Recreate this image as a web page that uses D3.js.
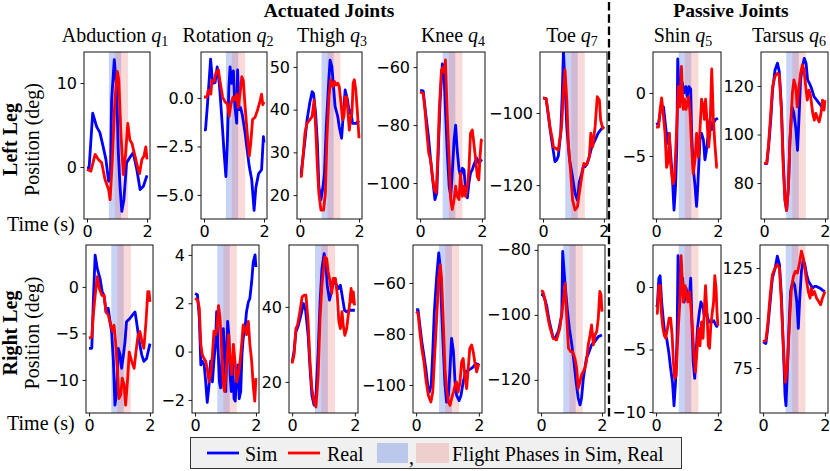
<!DOCTYPE html>
<html>
<head>
<meta charset="utf-8">
<script src="https://cdn.jsdelivr.net/npm/d3@7"></script>
<style>
  body { margin: 0; background: #fff; }
  svg { display: block; }
  .tick text { font-family: "DejaVu Sans", sans-serif; font-size: 16px; fill: #000; }
  .tick line { stroke: #000; stroke-width: 0.9; }
  .serif { font-family: "Liberation Serif", "Times New Roman", serif; fill: #000; }
</style>
</head>
<body>
<svg id="chart" width="830" height="471"></svg>
<script>
// joints, in the order of the columns
const joints = ["Abduction", "Rotation", "Thigh", "Knee", "Toe", "Shin", "Tarsus"];
const jointIdx = ["1", "2", "3", "4", "7", "5", "6"];
const rowNames = ["Left Leg", "Right Leg"];

const xDomain = [-0.1, 2.1];
const xTicks = [0, 2];
const flightSim = [0.73, 1.14];
const flightReal = [0.93, 1.37];

// y ranges and ticks per panel
const yDomainLeft = [[-6.2, 13.7], [-6.24, 2.37], [14.4, 53.5], [-112.4, -54.8], [-129.4, -83.1], [-10, 3.25], [65.2, 134]];
const yDomainRight = [[-13.55, 4.5], [-2.54, 4.41], [11.7, 56.5], [-111, -45.1], [-130.2, -78.5], [-10.08, 3.36], [52.5, 136.5]];
const yTicksLeft = [[0, 10], [-5, -2.5, 0], [20, 30, 40, 50], [-100, -80, -60], [-120, -100], [-5, 0], [80, 100, 120]];
const yTicksRight = [[-10, -5, 0], [-2, 0, 2, 4], [20, 40], [-100, -80, -60], [-120, -100, -80], [-10, -5, 0], [75, 100, 125]];

// ---- left leg, [time, deg]
const leftAbductionSim = [[0,-0.1],[0.07,-0.1],[0.19,6.4],[0.32,4.8],[0.43,4.1],[0.54,2.4],[0.63,0.9],[0.72,-1.7],[0.78,-1.5],[0.82,8],[0.91,12.8],[0.99,9.2],[1.04,2.0],[1.1,-2.3],[1.16,-5.3],[1.23,-3.9],[1.32,0.5],[1.46,1.3],[1.54,1.7],[1.66,-0.3],[1.77,-2.7],[1.88,-2.3],[2.0,-1.0]];
const leftAbductionReal = [[0,-0.3],[0.13,-0.5],[0.27,1.5],[0.38,0.9],[0.49,0.5],[0.6,-1.5],[0.72,-2.7],[0.77,-3.9],[0.84,0.5],[0.93,8.0],[1.01,11.4],[1.06,10.4],[1.13,4.0],[1.21,-0.9],[1.28,1.3],[1.36,5.2],[1.43,3.2],[1.5,2.8],[1.6,1.3],[1.68,0.1],[1.75,-0.8],[1.83,0.9],[1.9,1.3],[1.96,2.4],[2.0,0.9]];
const leftRotationSim = [[0,-1.65],[0.05,-1.65],[0.11,-0.45],[0.18,1.1],[0.22,2.0],[0.29,0.75],[0.37,0.8],[0.44,1.6],[0.51,0.75],[0.56,-0.3],[0.62,-1.65],[0.67,-2.85],[0.73,-4.05],[0.78,-2.2],[0.83,0.6],[0.87,1.6],[0.92,0.75],[0.98,1.4],[1.03,-0.45],[1.09,-1.3],[1.12,1.45],[1.17,-0.6],[1.22,-0.5],[1.28,-0.9],[1.37,-1.8],[1.44,-2.7],[1.51,-3.55],[1.59,-4.2],[1.67,-5.8],[1.73,-4.6],[1.82,-3.9],[1.92,-3.7],[1.98,-2.0],[2.0,-2.3]];
const leftRotationReal = [[0,0.05],[0.1,0.05],[0.14,0.4],[0.23,0.2],[0.26,0.9],[0.34,0.85],[0.4,1.3],[0.48,1.45],[0.53,0.9],[0.62,0.05],[0.7,-0.2],[0.78,-0.3],[0.84,-0.95],[0.9,-0.3],[0.97,0.05],[1.03,-0.1],[1.09,0.2],[1.14,-0.5],[1.2,0.2],[1.26,1.1],[1.31,0.9],[1.37,-0.45],[1.44,-1.8],[1.51,-3.0],[1.56,-2.3],[1.62,-1.1],[1.7,-1.0],[1.78,-0.65],[1.87,-0.15],[1.92,0.2],[1.96,-0.35],[2.0,-0.2]];
const leftThighSim = [[0,25.1],[0.04,25.1],[0.17,32.9],[0.24,37.6],[0.33,41.5],[0.41,44.2],[0.46,43.8],[0.53,39.2],[0.59,32.1],[0.64,22.0],[0.71,18.9],[0.78,22],[0.83,25.1],[0.89,36],[0.97,46.2],[1.02,51.6],[1.08,50.1],[1.14,45],[1.19,40.7],[1.28,38.4],[1.33,36.0],[1.41,33.3],[1.47,39.2],[1.53,44.6],[1.61,42.3],[1.67,39.2],[1.72,39.9],[1.78,36.8],[1.89,36.8],[2.0,37.4]];
const leftThighReal = [[0,24.4],[0.05,24.4],[0.17,34.5],[0.24,36.8],[0.33,37.6],[0.41,38.4],[0.48,42.3],[0.53,36],[0.59,26.6],[0.64,20.4],[0.71,16.5],[0.8,16.5],[0.86,20.4],[0.91,32.9],[0.98,43.0],[1.04,47],[1.11,45.4],[1.17,46.6],[1.22,45.8],[1.28,46.2],[1.33,45.4],[1.39,41.5],[1.44,37.6],[1.49,38.4],[1.53,43.0],[1.58,43.0],[1.62,39.9],[1.67,35.2],[1.71,37.6],[1.76,39.2],[1.8,46.2],[1.84,47],[1.89,44.6],[1.94,39.9],[2.0,33.3]];
const leftKneeSim = [[0,-68],[0.1,-68.2],[0.18,-76],[0.27,-84],[0.34,-92],[0.41,-98.9],[0.48,-105.7],[0.54,-103.4],[0.59,-88.6],[0.65,-71.4],[0.72,-58.9],[0.78,-63.4],[0.83,-77.1],[0.88,-89.7],[0.94,-101.1],[0.99,-104.6],[1.04,-96.6],[1.1,-85.1],[1.15,-80],[1.2,-88.6],[1.26,-95.4],[1.31,-97.7],[1.37,-94.9],[1.42,-95.4],[1.47,-102.3],[1.53,-105.1],[1.58,-100],[1.63,-96.6],[1.69,-95.4],[1.74,-93.7],[1.83,-91.4],[1.9,-93.1],[2.0,-91.8]];
const leftKneeReal = [[0,-68.6],[0.1,-69.1],[0.16,-74.9],[0.22,-82.9],[0.28,-89.7],[0.34,-92],[0.41,-98.9],[0.46,-102.3],[0.52,-103.4],[0.57,-92],[0.62,-74.9],[0.69,-61.1],[0.75,-60],[0.79,-62],[0.82,-57.5],[0.88,-77],[0.94,-92],[0.99,-105.7],[1.04,-109.1],[1.1,-105.7],[1.15,-101.1],[1.2,-104.6],[1.26,-105.7],[1.31,-96.6],[1.37,-104.6],[1.42,-101.1],[1.47,-104.6],[1.53,-101.1],[1.58,-95.4],[1.63,-82.9],[1.69,-81.7],[1.74,-86.3],[1.8,-92],[1.85,-97.7],[1.9,-98.9],[1.94,-90.9],[1.98,-85.1],[2.0,-85.7]];
const leftToeSim = [[0,-95.9],[0.1,-96],[0.17,-100.5],[0.23,-104.5],[0.3,-108.5],[0.39,-113.5],[0.45,-113],[0.5,-112],[0.58,-105.6],[0.63,-95],[0.67,-82.5],[0.72,-92],[0.78,-103.8],[0.87,-113],[0.95,-116.8],[1.05,-122.3],[1.13,-124.2],[1.19,-119.1],[1.27,-116.8],[1.32,-114.9],[1.38,-114.9],[1.45,-114],[1.52,-112.1],[1.6,-109.4],[1.71,-107.5],[1.81,-105.6],[1.93,-104.3],[2.0,-103.8]];
const leftToeReal = [[0,-95.8],[0.1,-96],[0.17,-100],[0.23,-104],[0.3,-107],[0.34,-109.4],[0.45,-110],[0.5,-110.3],[0.61,-103.8],[0.67,-94],[0.72,-88],[0.78,-96.4],[0.83,-108.4],[0.91,-116.8],[0.97,-124.2],[1.05,-126.9],[1.13,-126],[1.19,-122.3],[1.27,-117.7],[1.34,-114],[1.43,-114.4],[1.52,-112.1],[1.57,-105.6],[1.63,-109.4],[1.71,-103.8],[1.78,-95.5],[1.85,-96.4],[1.89,-101.9],[1.96,-104.3],[2.0,-103.8]];
const leftShinSim = [[0,-2.5],[0.08,-2.4],[0.15,-1.3],[0.24,-1.1],[0.31,-2.7],[0.37,-4.0],[0.42,-3.2],[0.47,-4.8],[0.53,-6.9],[0.58,-9.3],[0.63,-7.4],[0.67,-4.3],[0.7,2.7],[0.74,0.3],[0.8,-0.3],[0.85,0.8],[0.9,0],[0.96,0.5],[1.01,-0.3],[1.06,0.5],[1.12,0.3],[1.15,-3.2],[1.2,-5.9],[1.26,-7.4],[1.31,-9.0],[1.35,-7.4],[1.42,-3.7],[1.47,-3.2],[1.53,-3.7],[1.58,-5.3],[1.63,-4.5],[1.69,-3.2],[1.74,-2.1],[1.8,-2.9],[1.85,-2.4],[1.92,-2.1],[2.0,-2.0]];
const leftShinReal = [[0,-2.7],[0.08,-2.7],[0.13,-1.3],[0.18,-0.4],[0.24,-1.9],[0.29,-3.2],[0.34,-5.9],[0.4,-5.3],[0.43,-3.2],[0.47,-5.6],[0.54,-7.2],[0.59,-6.9],[0.63,-4.8],[0.68,-2.1],[0.72,0.5],[0.77,-1.1],[0.82,2.1],[0.85,0],[0.88,-1.3],[0.92,-0.5],[0.97,-1.3],[1.01,-0.8],[1.05,-0.3],[1.1,-1.6],[1.15,-4.3],[1.2,-6.4],[1.26,-5.3],[1.31,-3.2],[1.37,-5.1],[1.42,-2.9],[1.47,-0.5],[1.53,-1.1],[1.56,-2.1],[1.6,-0.5],[1.66,-2.7],[1.7,-4.3],[1.74,-3.2],[1.8,1.9],[1.85,-1.9],[1.9,-4.0],[1.96,-5.9],[1.99,-5.9]];
const leftTarsusSim = [[0,88],[0.09,88],[0.15,94.9],[0.22,105.9],[0.28,118.3],[0.36,126.6],[0.44,129.4],[0.5,125.9],[0.57,111.4],[0.63,89.4],[0.69,72.8],[0.74,68.7],[0.8,78.3],[0.85,97.7],[0.92,111.4],[0.98,108.7],[1.05,101.8],[1.1,93.5],[1.15,107.3],[1.2,122.5],[1.26,128],[1.32,131.4],[1.38,129.4],[1.43,122.5],[1.49,121.1],[1.56,119],[1.64,115.6],[1.73,114.2],[1.81,112.8],[1.9,111.4],[2.0,110.8]];
const leftTarsusReal = [[0,88],[0.09,88.3],[0.15,96.3],[0.22,108.7],[0.28,119.7],[0.36,123.9],[0.44,125.2],[0.5,124.6],[0.57,110.1],[0.63,86.6],[0.69,72.8],[0.74,68.7],[0.8,78.3],[0.85,97.7],[0.93,117],[0.98,122.5],[1.04,119.7],[1.09,111.4],[1.15,119.7],[1.2,125.2],[1.26,128.7],[1.31,126.6],[1.37,119.7],[1.42,114.2],[1.48,118.3],[1.53,115.6],[1.6,108.7],[1.65,105.9],[1.7,108.7],[1.76,106.6],[1.81,105.2],[1.87,108.7],[1.92,114.2],[1.97,110.1],[2.0,114.2]];

// ---- right leg
const rightAbductionSim = [[0,-6.6],[0.09,-6.6],[0.14,-1.6],[0.2,3.4],[0.27,2.0],[0.36,0.9],[0.43,-0.5],[0.49,-0.9],[0.56,-2.7],[0.63,-2.3],[0.69,-3.75],[0.74,-4.8],[0.8,-8],[0.85,-12.7],[0.91,-11.25],[0.96,-6.6],[1.02,-7.3],[1.07,-8.75],[1.13,-7.3],[1.18,-5.9],[1.23,-3.75],[1.34,-3.4],[1.43,-3.0],[1.51,-2.7],[1.56,-3.75],[1.65,-5.9],[1.73,-7.3],[1.8,-8],[1.89,-7.7],[2.0,-6.1]];
const rightAbductionReal = [[0,-5.5],[0.09,-5.4],[0.14,-3.0],[0.2,-0.9],[0.27,1.1],[0.34,-0.2],[0.42,-0.9],[0.49,-0.9],[0.56,-2.7],[0.63,-3.0],[0.71,-4.1],[0.78,-4.8],[0.82,-4.1],[0.87,-5.9],[0.93,-8.75],[0.98,-12],[1.04,-11.6],[1.09,-9.8],[1.15,-10.5],[1.2,-12.7],[1.26,-10.2],[1.32,-7],[1.4,-8],[1.48,-8.75],[1.54,-7],[1.61,-5.2],[1.67,-4.8],[1.74,-5.9],[1.8,-6.6],[1.87,-3.75],[1.93,-0.5],[1.97,-0.5],[2.0,-1.6]];
const rightRotationSim = [[0,2.4],[0.08,2.35],[0.14,1.4],[0.19,-0.55],[0.24,-0.4],[0.3,-0.55],[0.35,-1.25],[0.4,-2.1],[0.46,-1.4],[0.51,-0.4],[0.57,-1.25],[0.62,-0.4],[0.67,0.3],[0.71,1.65],[0.75,0.3],[0.8,-1.25],[0.84,-1.5],[0.89,-0.15],[0.93,0.95],[0.97,0],[1.01,-1.65],[1.04,-0.15],[1.07,1.25],[1.11,0.7],[1.15,-0.95],[1.19,-1.65],[1.23,-0.3],[1.28,-1.95],[1.32,-2.05],[1.37,-0.95],[1.41,-0.55],[1.45,-1.95],[1.5,-1.65],[1.54,-0.15],[1.58,0.55],[1.64,0.95],[1.69,1.65],[1.75,2.05],[1.8,2.2],[1.86,2.9],[1.91,3.7],[1.97,4.0],[2.0,3.5]];
const rightRotationReal = [[0,2.2],[0.08,2.15],[0.14,1.8],[0.19,0.3],[0.24,-0.15],[0.3,-0.3],[0.35,-0.4],[0.4,-0.7],[0.46,-1.25],[0.51,-0.95],[0.57,-0.15],[0.62,0.85],[0.67,0.7],[0.71,0.85],[0.77,1.9],[0.82,1.4],[0.87,0.15],[0.93,-1.4],[0.97,-1.65],[1.02,-0.85],[1.06,-0.15],[1.1,0.7],[1.15,-0.3],[1.2,-0.95],[1.26,0.3],[1.31,-0.4],[1.37,-1.25],[1.42,-0.95],[1.48,-0.4],[1.53,0.3],[1.58,1.1],[1.64,0.95],[1.69,0.7],[1.75,1.25],[1.8,0.3],[1.86,-0.4],[1.91,-1.4],[1.96,-2.05],[2.0,-1.1]];
const rightThighSim = [[0,25.3],[0.06,28],[0.12,33.3],[0.2,35.1],[0.28,37.8],[0.36,40.9],[0.43,39.1],[0.51,32.4],[0.57,23.6],[0.63,16.4],[0.7,13.8],[0.76,16.4],[0.83,28],[0.89,41.3],[0.95,50.2],[1.02,54.2],[1.07,52],[1.12,45.8],[1.19,41.8],[1.24,43.6],[1.29,45.8],[1.35,46.7],[1.42,45.8],[1.48,44.9],[1.54,45.8],[1.61,42.2],[1.67,39.1],[1.74,38.7],[1.84,39.1],[2.0,39.1]];
const rightThighReal = [[0,24.9],[0.06,27.1],[0.12,34.2],[0.17,35.1],[0.23,37.8],[0.32,42.7],[0.38,43.1],[0.44,43.1],[0.51,36],[0.57,25.3],[0.63,18.2],[0.7,14.7],[0.76,13.3],[0.83,21.8],[0.89,36.9],[0.95,45.8],[1.04,53.3],[1.1,52.9],[1.15,49.3],[1.21,46.7],[1.26,43.6],[1.31,47.6],[1.38,47.6],[1.44,43.1],[1.49,36],[1.54,34.2],[1.59,38.7],[1.63,35.1],[1.68,32.4],[1.74,34.2],[1.79,37.8],[1.84,41.3],[1.88,44.9],[1.92,41.3],[1.95,44],[1.99,40.4]];
const rightKneeSim = [[0,-70.5],[0.06,-70.5],[0.13,-77.8],[0.18,-83],[0.23,-87],[0.31,-93.6],[0.37,-100.1],[0.42,-102.8],[0.48,-100.1],[0.53,-87],[0.58,-71.2],[0.66,-56.7],[0.72,-48.2],[0.76,-52.8],[0.81,-69.9],[0.87,-87],[0.92,-100.1],[0.97,-106.7],[1.03,-104.1],[1.08,-93.6],[1.13,-81.7],[1.19,-87],[1.24,-98.8],[1.29,-104.1],[1.37,-106.1],[1.43,-104.1],[1.5,-98.8],[1.58,-94.9],[1.66,-94.2],[1.75,-93.6],[1.82,-92.9],[1.9,-91.6],[2.0,-92]];
const rightKneeReal = [[0,-71.2],[0.06,-71.8],[0.13,-80.4],[0.18,-85.7],[0.25,-90.9],[0.32,-98.8],[0.39,-104.1],[0.47,-106.7],[0.53,-102.8],[0.58,-90.9],[0.66,-72.5],[0.72,-58],[0.77,-52.8],[0.81,-58],[0.87,-76.4],[0.92,-93.6],[0.97,-101.4],[1.03,-106.7],[1.08,-108],[1.13,-105.4],[1.19,-102.8],[1.24,-100.1],[1.29,-98.8],[1.34,-102.8],[1.4,-98.8],[1.45,-90.9],[1.5,-89.6],[1.56,-97.5],[1.61,-101.4],[1.66,-93.6],[1.71,-85.7],[1.77,-84.3],[1.82,-87],[1.87,-90.9],[1.93,-94.9],[1.97,-92.9],[2.0,-91.6]];
const rightToeSim = [[0,-93.8],[0.06,-93.8],[0.12,-95],[0.19,-97.4],[0.25,-101],[0.3,-103.1],[0.4,-107.2],[0.46,-107.2],[0.57,-105.1],[0.68,-100],[0.71,-80.5],[0.79,-90.8],[0.87,-99],[0.93,-104.1],[1.01,-109.2],[1.08,-114.4],[1.15,-120.5],[1.22,-125.6],[1.28,-127.7],[1.33,-125.6],[1.39,-119.5],[1.44,-116.4],[1.49,-113.3],[1.58,-111.3],[1.66,-109.2],[1.77,-108.2],[1.88,-106.7],[2.0,-106.2]];
const rightToeReal = [[0,-92.6],[0.06,-92.8],[0.12,-95],[0.19,-99],[0.25,-102],[0.3,-104.1],[0.4,-107.2],[0.51,-107.7],[0.62,-104.1],[0.73,-95.9],[0.79,-90.3],[0.84,-100],[0.9,-110.3],[0.97,-111.3],[1.04,-111.3],[1.11,-113.3],[1.17,-116.4],[1.22,-122.6],[1.28,-120.5],[1.33,-118.5],[1.39,-117.4],[1.44,-116.4],[1.49,-114.4],[1.55,-109.2],[1.61,-106.2],[1.66,-103.1],[1.72,-109.2],[1.77,-106.2],[1.83,-105.1],[1.88,-101],[1.93,-92.8],[1.97,-93.8],[2.0,-99]];
const rightShinSim = [[0,-1.6],[0.04,-1.5],[0.09,0.7],[0.13,0.9],[0.18,-1.2],[0.24,-2.8],[0.29,-3.9],[0.34,-4.1],[0.41,-5.2],[0.47,-6.5],[0.53,-7.6],[0.58,-9.5],[0.63,-7.6],[0.68,-3.9],[0.71,2.5],[0.75,0.1],[0.81,-0.1],[0.86,0.7],[0.91,-1.2],[0.97,-0.1],[1.02,-0.7],[1.08,-0.7],[1.12,0.7],[1.16,-2.8],[1.2,-6],[1.25,-7.3],[1.29,-5.5],[1.34,-3.3],[1.4,-2],[1.45,-1.2],[1.51,-1.5],[1.56,-2.3],[1.61,-1.7],[1.67,-2.5],[1.72,-2.8],[1.8,-2.8],[1.87,-2.7],[1.94,-3.1],[2.0,-3.2]];
const rightShinReal = [[0,-2.1],[0.04,-2.1],[0.09,0.1],[0.13,0.1],[0.17,-2],[0.22,-3.3],[0.27,-3.9],[0.31,-4.1],[0.37,-3.3],[0.42,-2.5],[0.47,-2.5],[0.52,-3.9],[0.56,-6],[0.6,-7.3],[0.65,-7.1],[0.69,-4.7],[0.73,-2.8],[0.77,-1.2],[0.81,2.5],[0.84,0.9],[0.88,-1.2],[0.94,0.1],[0.99,-0.7],[1.03,-1.2],[1.08,-0.4],[1.13,-1.7],[1.17,-3.1],[1.22,-5.2],[1.27,-6.8],[1.32,-5.2],[1.37,-3.3],[1.42,-4.7],[1.47,-2.8],[1.52,-4.1],[1.56,-1.7],[1.6,0.1],[1.65,-2.3],[1.69,-4.7],[1.73,-4.9],[1.77,-3.1],[1.82,-2],[1.86,-1.2],[1.9,0.9],[1.94,-0.1],[1.97,-2],[2.0,-3.1]];
const rightTarsusSim = [[0,88.1],[0.09,87.2],[0.15,94.8],[0.23,108.2],[0.3,120],[0.39,125],[0.46,130.9],[0.53,126.7],[0.59,111.6],[0.66,83],[0.71,61.2],[0.74,56.2],[0.78,71.3],[0.84,96.5],[0.89,113.3],[0.96,118.3],[1.02,116.6],[1.09,108.2],[1.14,94.8],[1.18,108.2],[1.24,123.3],[1.3,129.2],[1.35,126.7],[1.41,121.6],[1.47,118.3],[1.54,116.6],[1.6,114.9],[1.66,115.8],[1.73,115.8],[1.84,114.9],[1.92,113.9],[2.0,113.3]];
const rightTarsusReal = [[0,88.1],[0.09,88.9],[0.15,96.5],[0.23,111.6],[0.3,121.6],[0.39,125],[0.46,126.7],[0.53,125],[0.59,108.2],[0.66,84.7],[0.72,67.9],[0.78,74.7],[0.85,96.5],[0.91,113.3],[0.98,120.8],[1.04,123.3],[1.11,122.5],[1.17,126.7],[1.24,133.4],[1.3,130],[1.35,125],[1.41,118.3],[1.46,113.3],[1.52,109.9],[1.56,114.9],[1.6,111.6],[1.66,113.3],[1.73,109.9],[1.8,108.2],[1.86,106.6],[1.92,109.9],[2.0,113.3]];

const leftSim = [leftAbductionSim, leftRotationSim, leftThighSim, leftKneeSim, leftToeSim, leftShinSim, leftTarsusSim];
const leftReal = [leftAbductionReal, leftRotationReal, leftThighReal, leftKneeReal, leftToeReal, leftShinReal, leftTarsusReal];
const rightSim = [rightAbductionSim, rightRotationSim, rightThighSim, rightKneeSim, rightToeSim, rightShinSim, rightTarsusSim];
const rightReal = [rightAbductionReal, rightRotationReal, rightThighReal, rightKneeReal, rightToeReal, rightShinReal, rightTarsusReal];

// layout (pixels)
const colX = [
  [[84, 150], [201, 267], [297, 362], [417, 485], [540, 607], [653, 721], [761, 828]],
  [[86, 153], [192, 259], [289, 358], [413, 482], [538, 605], [653, 721], [760, 828]]
];
const rowY = [[52, 219], [245, 413]];
const titleX = [115, 228, 332, 453, 572, 683, 789];
const timeLabelY = [231, 430];
const simColor = "#0000ff";
const realColor = "#ff0000";

const svg = d3.select("#chart");
svg.selectAll("*").remove();

const rows = [
  { sim: leftSim, real: leftReal, dom: yDomainLeft, ticks: yTicksLeft },
  { sim: rightSim, real: rightReal, dom: yDomainRight, ticks: yTicksRight }
];

rows.forEach(function (row, r) {
  for (let j = 0; j < joints.length; j++) {
    let x0 = colX[r][j][0], x1 = colX[r][j][1];
    let y0 = rowY[r][0], y1 = rowY[r][1];
    let scaleX = d3.scaleLinear().domain(xDomain).range([x0, x1]);
    let scaleY = d3.scaleLinear().domain(row.dom[j]).range([y1, y0]);
    let g = svg.append("g");
    let clipId = "clip" + r + "_" + j;
    g.append("clipPath").attr("id", clipId)
      .append("rect").attr("x", x0).attr("y", y0).attr("width", x1 - x0).attr("height", y1 - y0);

    let inner = g.append("g").attr("clip-path", `url(#${clipId})`);
    // flight phases
    inner.append("rect")
      .attr("x", scaleX(flightSim[0])).attr("width", scaleX(flightSim[1]) - scaleX(flightSim[0]))
      .attr("y", y0).attr("height", y1 - y0)
      .style("fill", "royalblue").style("opacity", 0.3);
    inner.append("rect")
      .attr("x", scaleX(flightReal[0])).attr("width", scaleX(flightReal[1]) - scaleX(flightReal[0]))
      .attr("y", y0).attr("height", y1 - y0)
      .style("fill", "lightcoral").style("opacity", 0.3);

    let line = d3.line().x((d) => scaleX(d[0])).y((d) => scaleY(d[1]));
    inner.append("path").datum(row.sim[j]).attr("d", line)
      .style("fill", "none").style("stroke", simColor).style("stroke-width", 2.8)
      .style("stroke-linejoin", "round");
    inner.append("path").datum(row.real[j]).attr("d", line)
      .style("fill", "none").style("stroke", realColor).style("stroke-width", 2.8)
      .style("stroke-linejoin", "round");

    // axes
    let fmt = (r === 0 && j === 1) ? d3.format(".1f") : d3.format("d");
    let axisY = d3.axisLeft(scaleY).tickValues(row.ticks[j]).tickSize(3.5).tickPadding(3.5).tickFormat(fmt);
    let axisX = d3.axisBottom(scaleX).tickValues(xTicks).tickSize(3.5).tickPadding(3.5).tickFormat(d3.format("d"));
    g.append("g").attr("transform", `translate(${x0},0)`).call(axisY).call((a) => a.select(".domain").remove());
    g.append("g").attr("transform", `translate(0,${y1})`).call(axisX).call((a) => a.select(".domain").remove());

    g.append("rect").attr("x", x0).attr("y", y0).attr("width", x1 - x0).attr("height", y1 - y0)
      .style("fill", "none").style("stroke", "#111").style("stroke-width", 1);

    // column title
    if (r === 0) {
      let t = svg.append("text").attr("class", "serif")
        .attr("x", titleX[j]).attr("y", 42).attr("text-anchor", "middle").style("font-size", "20px");
      t.append("tspan").text(joints[j] + " ");
      t.append("tspan").style("font-style", "italic").text("q");
      t.append("tspan").attr("dy", 4).style("font-size", "14px").text(jointIdx[j]);
    }
  }

  // row labels
  let cy = (rowY[r][0] + rowY[r][1]) / 2 + 4;
  svg.append("text").attr("class", "serif")
    .attr("transform", `translate(17,${cy}) rotate(-90)`)
    .attr("text-anchor", "middle").style("font-size", "20px").style("font-weight", "bold")
    .text(rowNames[r]);
  svg.append("text").attr("class", "serif")
    .attr("transform", `translate(39,${cy}) rotate(-90)`)
    .attr("text-anchor", "middle").style("font-size", "20px")
    .text("Position (deg)");
  svg.append("text").attr("class", "serif")
    .attr("x", 7).attr("y", timeLabelY[r])
    .style("font-size", "20px").text("Time (s)");
});

// group headers
svg.append("text").attr("class", "serif").attr("x", 329).attr("y", 17)
  .attr("text-anchor", "middle").style("font-size", "19.5px").style("font-weight", "bold").text("Actuated Joints");
svg.append("text").attr("class", "serif").attr("x", 731).attr("y", 17)
  .attr("text-anchor", "middle").style("font-size", "19.5px").style("font-weight", "bold").text("Passive Joints");

// dashed separator
svg.append("line").attr("x1", 609).attr("x2", 609).attr("y1", 2).attr("y2", 418)
  .style("stroke", "#000").style("stroke-width", 2.3).style("stroke-dasharray", "8.5,3.8");

// legend
let lg = svg.append("g");
lg.append("rect").attr("x", 190.5).attr("y", 437.5).attr("width", 491).attr("height", 31)
  .style("fill", "#f0f0f0").style("stroke", "#333").style("stroke-width", 1);
lg.append("line").attr("x1", 207).attr("x2", 239).attr("y1", 453).attr("y2", 453)
  .style("stroke", simColor).style("stroke-width", 2.8);
lg.append("text").attr("class", "serif").attr("x", 245).attr("y", 461).style("font-size", "20px").text("Sim");
lg.append("line").attr("x1", 288).attr("x2", 320).attr("y1", 453).attr("y2", 453)
  .style("stroke", realColor).style("stroke-width", 2.8);
lg.append("text").attr("class", "serif").attr("x", 327).attr("y", 461).style("font-size", "20px").text("Real");
lg.append("rect").attr("x", 377).attr("y", 443).attr("width", 31).attr("height", 20)
  .style("fill", "royalblue").style("opacity", 0.3);
lg.append("text").attr("class", "serif").attr("x", 409).attr("y", 464).style("font-size", "20px").text(",");
lg.append("rect").attr("x", 416).attr("y", 443).attr("width", 33).attr("height", 20)
  .style("fill", "lightcoral").style("opacity", 0.3);
lg.append("text").attr("class", "serif").attr("x", 452).attr("y", 461).style("font-size", "20px")
  .text("Flight Phases in Sim, Real");
</script>
</body>
</html>
